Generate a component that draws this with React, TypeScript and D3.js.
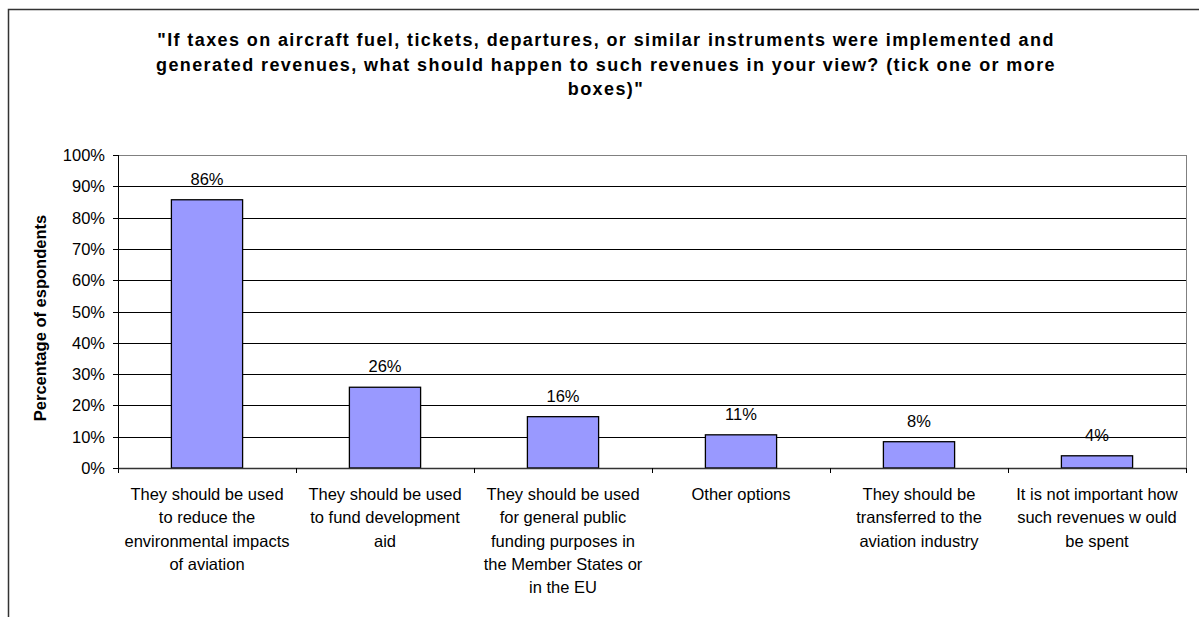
import React from 'react';
import { scaleBand, scaleLinear, range } from 'd3';

const categories = [
  'They should be used\nto reduce the\nenvironmental impacts\nof aviation',
  'They should be used\nto fund development\naid',
  'They should be used\nfor general public\nfunding purposes in\nthe Member States or\nin the EU',
  'Other options',
  'They should be\ntransferred to the\naviation industry',
  'It is not important how\nsuch revenues w ould\nbe spent',
];
const values = [85.7, 25.8, 16.4, 10.6, 8.4, 3.9];
const yTicks = [0, 10, 20, 30, 40, 50, 60, 70, 80, 90, 100];
const titleLines = [
  '"If taxes on aircraft fuel, tickets, departures, or similar instruments were implemented and',
  'generated revenues, what should happen to such revenues in your view? (tick one or more',
  'boxes)"',
];
const yTitle = 'Percentage of espondents';

const W = 1199;
const H = 617;
const plot = { left: 118, right: 1186, top: 155, bottom: 468 };
const font = '"Liberation Sans", Arial, sans-serif';

const App: React.FC = () => {
  const x = scaleBand<number>()
    .domain(range(categories.length))
    .range([plot.left, plot.right])
    .paddingInner(0.6)
    .paddingOuter(0.3);
  const step = (plot.right - plot.left) / categories.length;
  const y = scaleLinear().domain([0, 100]).range([plot.bottom, plot.top]);

  return (
    <svg width={W} height={H} style={{ position: 'absolute', left: 0, top: 0, background: '#fff' }}>
      {/* outer frame, cut off at right and bottom */}
      <rect x={8.5} y={9.5} width={W + 20} height={H + 20} fill="#fff" stroke="#333" strokeWidth={1.5} />

      {/* title */}
      <text fontFamily={font} fontWeight="bold" fontSize={18} letterSpacing={1.4} textAnchor="middle" fill="#000">
        {titleLines.map((t, i) => (
          <tspan key={i} x={606} y={46 + i * 24.5}>{t}</tspan>
        ))}
      </text>

      {/* gridlines */}
      {yTicks.filter(t => t > 0 && t < 100).map(t => (
        <line key={t} x1={plot.left} x2={plot.right} y1={Math.round(y(t)) + 0.5} y2={Math.round(y(t)) + 0.5} stroke="#000" strokeWidth={1} />
      ))}
      {/* plot border top/right */}
      <line x1={plot.left} x2={plot.right} y1={plot.top + 0.5} y2={plot.top + 0.5} stroke="#808080" />
      <line x1={plot.right + 0.5} x2={plot.right + 0.5} y1={plot.top} y2={plot.bottom} stroke="#808080" />

      {/* bars */}
      {values.map((v, i) => (
        <rect key={i} x={x(i)!} y={y(v)} width={x.bandwidth()} height={plot.bottom - y(v)}
          fill="#9999FF" stroke="#000" strokeWidth={1.3} />
      ))}

      {/* data labels */}
      {values.map((v, i) => (
        <text key={i} x={x(i)! + x.bandwidth() / 2} y={y(v) - 15} textAnchor="middle"
          fontFamily={font} fontSize={16.5} fill="#000">{`${Math.round(v)}%`}</text>
      ))}

      {/* y axis */}
      <line x1={plot.left + 0.5} x2={plot.left + 0.5} y1={plot.top} y2={plot.bottom} stroke="#000" />
      {yTicks.map(t => (
        <g key={t}>
          <line x1={plot.left - 5} x2={plot.left} y1={Math.round(y(t)) + 0.5} y2={Math.round(y(t)) + 0.5} stroke="#000" />
          <text x={105} y={y(t) + 6} textAnchor="end" fontFamily={font} fontSize={16.5} fill="#000">{`${t}%`}</text>
        </g>
      ))}
      <text transform={`translate(46,${318}) rotate(-90)`} textAnchor="middle" fontFamily={font}
        fontWeight="bold" fontSize={16.5} fill="#000">{yTitle}</text>

      {/* x axis */}
      <line x1={plot.left} x2={plot.right} y1={plot.bottom + 0.5} y2={plot.bottom + 0.5} stroke="#333" strokeWidth={1.5} />
      {range(categories.length + 1).map(i => (
        <line key={i} x1={plot.left + i * step + 0.5} x2={plot.left + i * step + 0.5} y1={plot.bottom} y2={plot.bottom + 5} stroke="#000" />
      ))}
      {categories.map((c, i) => (
        <text key={i} textAnchor="middle" fontFamily={font} fontSize={16.5} fill="#000">
          {c.split('\n').map((ln, j) => (
            <tspan key={j} x={x(i)! + x.bandwidth() / 2} y={500 + j * 23.3}>{ln}</tspan>
          ))}
        </text>
      ))}
    </svg>
  );
};

export default App;
